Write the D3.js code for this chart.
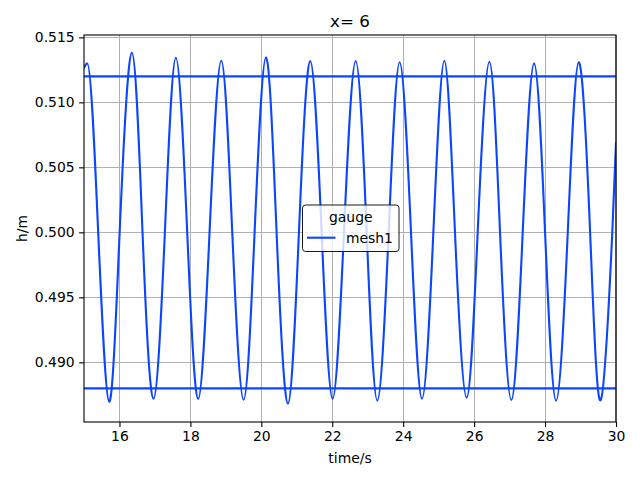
<!DOCTYPE html>
<html lang="en">
  <head>
    <meta charset="utf-8" />
    <title>gauge x= 6</title>
    <script src="https://d3js.org/d3.v7.min.js"></script>
    <style>
      body {
        padding: 0;
        margin: 0;
        background: #fff;
      }
      svg text {
        font-family: "DejaVu Sans", sans-serif;
        fill: #000;
      }
      .tick text {
        font-size: 13.9px;
      }
      .grid line {
        stroke: #b0b0b0;
        stroke-width: 1.1px;
        shape-rendering: crispEdges;
      }
    </style>
  </head>
  <body>
    <svg id="chart" width="640" height="480"></svg>

    <script>
      // series: peaks, 0.500 crossings and troughs of mesh1
      var times = [15.00, 15.09, 15.40, 15.71, 16.005, 16.35, 16.65, 16.96, 17.28, 17.59,
        17.91, 18.22, 18.54, 18.87, 19.18, 19.50, 19.81, 20.13, 20.43, 20.75,
        21.06, 21.38, 21.70, 22.01, 22.33, 22.66, 22.97, 23.27, 23.59, 23.90,
        24.22, 24.53, 24.85, 25.16, 25.46, 25.79, 26.10, 26.43, 26.73, 27.05,
        27.37, 27.69, 28.00, 28.31, 28.64, 28.95, 29.27, 29.57, 29.895, 30.00];
      var heights = [0.51265, 0.51300, 0.5000, 0.48697, 0.5000, 0.51382, 0.5000, 0.48720, 0.5000, 0.51343,
        0.5000, 0.48718, 0.5000, 0.51320, 0.5000, 0.48712, 0.5000, 0.51346, 0.5000, 0.48682,
        0.5000, 0.51318, 0.5000, 0.48720, 0.5000, 0.51318, 0.5000, 0.48705, 0.5000, 0.51308,
        0.5000, 0.48720, 0.5000, 0.51320, 0.5000, 0.48728, 0.5000, 0.51312, 0.5000, 0.48710,
        0.5000, 0.51300, 0.5000, 0.48705, 0.5000, 0.51308, 0.5000, 0.48710, 0.5000, 0.50690];
      var levels = [0.512, 0.488];

      var xTicks = [16, 18, 20, 22, 24, 26, 28, 30];
      var yTicks = [0.490, 0.495, 0.500, 0.505, 0.510, 0.515];
      var xDomain = [15, 30];
      var yDomain = [0.48541, 0.51518];

      var lineColor = "#0b45ff";

      var svg = d3.select("#chart");
      var margin = {top: 35, right: 24, bottom: 58, left: 84};
      var width = 640 - margin.left - margin.right;
      var height = 480 - margin.top - margin.bottom;

      var x = d3.scaleLinear().domain(xDomain).range([0, width]);
      var y = d3.scaleLinear().domain(yDomain).range([height, 0]);

      var g = svg.append("g")
        .attr("transform", "translate(" + margin.left + "," + margin.top + ")");

      g.append("clipPath")
        .attr("id", "clip")
        .append("rect")
        .attr("width", width)
        .attr("height", height);

      // grid
      g.append("g")
        .attr("class", "grid")
        .selectAll("line")
        .data(xTicks)
        .enter().append("line")
        .attr("x1", function(d){ return x(d); })
        .attr("x2", function(d){ return x(d); })
        .attr("y1", 0)
        .attr("y2", height);
      g.append("g")
        .attr("class", "grid")
        .selectAll("line")
        .data(yTicks)
        .enter().append("line")
        .attr("x1", 0)
        .attr("x2", width)
        .attr("y1", function(d){ return y(d); })
        .attr("y2", function(d){ return y(d); });

      // data
      var data = times.map(function(t, i){ return {t: t, h: heights[i]}; });
      // the short first stretch (up to the first crossing) uses a monotone curve,
      // the evenly spaced rest a natural spline
      var lineHead = d3.line()
        .curve(d3.curveMonotoneX)
        .x(function(d){ return x(d.t); })
        .y(function(d){ return y(d.h); });
      var lineBody = d3.line()
        .curve(d3.curveNatural)
        .x(function(d){ return x(d.t); })
        .y(function(d){ return y(d.h); });

      var plot = g.append("g").attr("clip-path", "url(#clip)");
      [lineHead(data.slice(0, 3)), lineBody(data.slice(2))].forEach(function(p){
        plot.append("path")
          .attr("d", p)
          .attr("fill", "none")
          .attr("stroke", lineColor)
          .attr("stroke-width", 2.1)
          .attr("stroke-linecap", "round");
      });

      plot.selectAll(".level")
        .data(levels)
        .enter().append("line")
        .attr("class", "level")
        .attr("x1", 0)
        .attr("x2", width)
        .attr("y1", function(d){ return y(d); })
        .attr("y2", function(d){ return y(d); })
        .attr("stroke", lineColor)
        .attr("stroke-width", 2.1);

      // axes
      var xAxis = g.append("g")
        .attr("transform", "translate(0," + height + ")")
        .call(d3.axisBottom(x).tickValues(xTicks).tickFormat(d3.format("d"))
          .tickSizeInner(4.9).tickSizeOuter(0).tickPadding(4.5));
      var yAxis = g.append("g")
        .call(d3.axisLeft(y).tickValues(yTicks).tickFormat(d3.format(".3f"))
          .tickSizeInner(4.9).tickSizeOuter(0).tickPadding(4.5));
      [xAxis, yAxis].forEach(function(a){
        a.select(".domain").remove();
        a.selectAll(".tick line").attr("stroke", "#000").attr("stroke-width", 1.1);
        a.selectAll("text").attr("fill", "#000").style("font-family", "DejaVu Sans");
      });

      // frame
      g.append("rect")
        .attr("width", width)
        .attr("height", height)
        .attr("fill", "none")
        .attr("stroke", "#000")
        .attr("stroke-width", 1.1);

      // titles
      svg.append("text")
        .attr("x", margin.left + width / 2)
        .attr("y", 27)
        .attr("text-anchor", "middle")
        .style("font-size", "16.7px")
        .text("x= 6");
      svg.append("text")
        .attr("x", margin.left + width / 2)
        .attr("y", 463)
        .attr("text-anchor", "middle")
        .style("font-size", "13.9px")
        .text("time/s");
      svg.append("text")
        .attr("transform", "translate(27," + (margin.top + height / 2) + ") rotate(-90)")
        .attr("text-anchor", "middle")
        .style("font-size", "13.9px")
        .text("h/m");

      // legend
      var legend = svg.append("g")
        .attr("transform", "translate(302.5,205)");
      legend.append("rect")
        .attr("width", 96.5)
        .attr("height", 46.5)
        .attr("rx", 3)
        .attr("fill", "#fff")
        .attr("fill-opacity", 0.8)
        .attr("stroke", "#1a1a1a")
        .attr("stroke-width", 1);
      legend.append("text")
        .attr("x", 48.25)
        .attr("y", 16.5)
        .attr("text-anchor", "middle")
        .style("font-size", "13.9px")
        .text("gauge");
      legend.append("line")
        .attr("x1", 4.5)
        .attr("x2", 33)
        .attr("y1", 32.7)
        .attr("y2", 32.7)
        .attr("stroke", lineColor)
        .attr("stroke-width", 2.1);
      legend.append("text")
        .attr("x", 43.5)
        .attr("y", 37.8)
        .style("font-size", "13.9px")
        .text("mesh1");
    </script>
  </body>
</html>
